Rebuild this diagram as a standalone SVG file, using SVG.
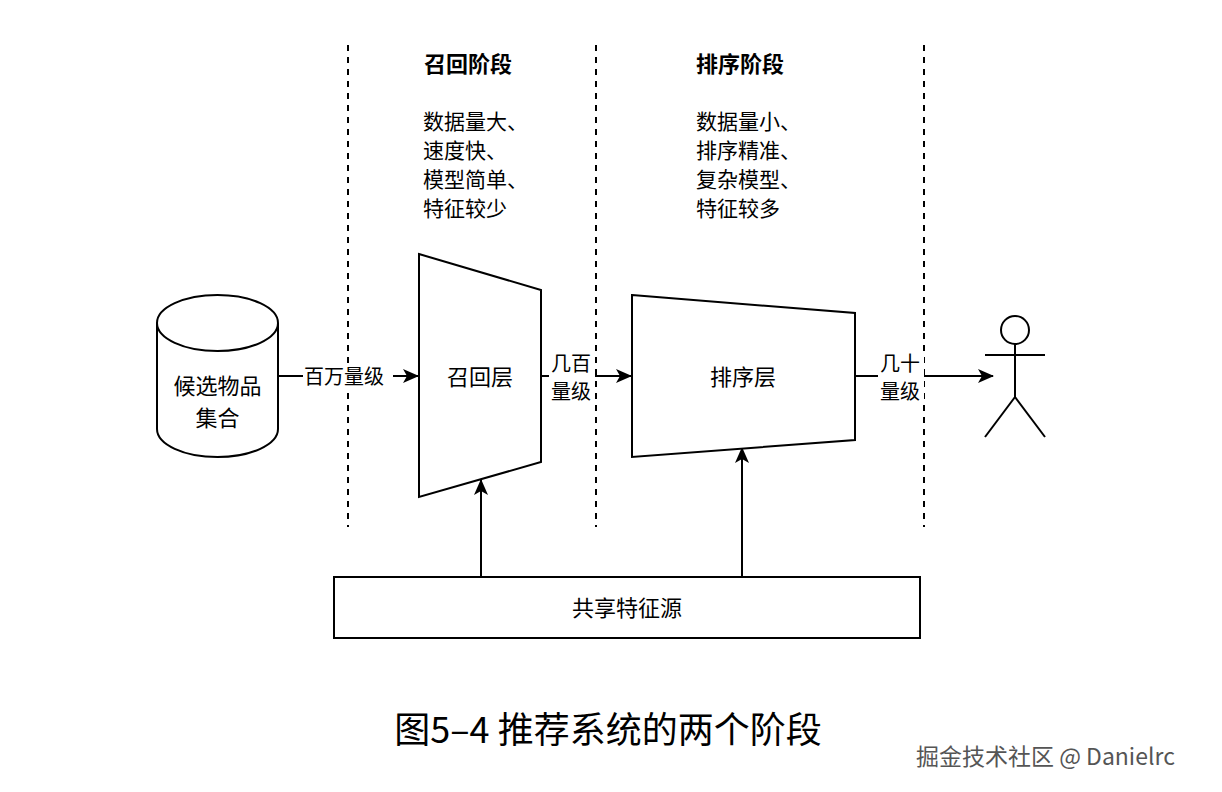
<svg xmlns="http://www.w3.org/2000/svg" width="1222" height="792" viewBox="0 0 1222 792">
<style>
.s{fill:#fff;stroke:#000;stroke-width:2}
.d{stroke:#000;stroke-width:2;stroke-dasharray:6 6;fill:none}
.c{stroke:#000;stroke-width:2;fill:none}
text{font-family:"Noto Sans CJK SC","Liberation Sans",sans-serif;font-size:22px;fill:#000}
.b{font-weight:bold}
.m{text-anchor:middle}
.l{font-size:20px}
.t{font-size:21px}
</style>
<defs>
<marker id="ab" markerWidth="16" markerHeight="16" refX="15" refY="8" orient="auto" markerUnits="userSpaceOnUse" viewBox="0 0 16 16"><path d="M0,1 L16,8 L0,15 L4,8 Z" fill="#000"/></marker></defs>
<rect width="1222" height="792" fill="#fff"/>
<g id="dividers">
<line class="d" x1="348" y1="45" x2="348" y2="527"/>
<line class="d" x1="596" y1="45" x2="596" y2="527"/>
<line class="d" x1="924" y1="45" x2="924" y2="527"/>
</g>
<g id="stage1"><text class="b" x="424" y="72">召回阶段</text>
<text class="t" x="423" y="129">数据量大、</text><text class="t" x="423" y="158">速度快、</text><text class="t" x="423" y="187">模型简单、</text><text class="t" x="423" y="216">特征较少</text></g>
<g id="stage2"><text class="b" x="696" y="72">排序阶段</text>
<text class="t" x="696" y="129">数据量小、</text><text class="t" x="696" y="158">排序精准、</text><text class="t" x="696" y="187">复杂模型、</text><text class="t" x="696" y="216">特征较多</text></g>
<g id="connectors">
<line class="c" x1="278" y1="376" x2="418" y2="376" marker-end="url(#ab)"/>
<line class="c" x1="541" y1="376" x2="631" y2="376" marker-end="url(#ab)"/>
<line class="c" x1="855" y1="376" x2="993" y2="376" marker-end="url(#ab)"/>
<line class="c" x1="481" y1="577" x2="481" y2="480" marker-end="url(#ab)"/>
<line class="c" x1="742" y1="577" x2="742" y2="448" marker-end="url(#ab)"/>
<rect x="303" y="364" width="90" height="24" fill="#fff"/>
<text class="l" x="304" y="384">百万量级</text>
<rect x="549" y="352" width="46" height="50" fill="#fff"/>
<text class="l" x="551" y="371">几百</text><text class="l" x="551" y="399">量级</text>
<rect x="878" y="352" width="46" height="50" fill="#fff"/>
<text class="l" x="880" y="371">几十</text><text class="l" x="880" y="399">量级</text>
</g>
<g id="pool">
<path class="s" d="M157,323 L157,429 A60.5,28 0 0 0 278,429 L278,323"/>
<ellipse class="s" cx="217.5" cy="323" rx="60.5" ry="28"/>
<text class="m" x="217.5" y="394">候选物品</text><text class="m" x="217.5" y="426">集合</text>
</g>
<g id="recall"><polygon class="s" points="419,254 541,290 541,462 419,497"/><text class="m" x="480" y="385">召回层</text></g>
<g id="rank"><polygon class="s" points="632,295 855,313 855,440 632,457"/><text class="m" x="743" y="385">排序层</text></g>
<g id="user" class="c"><circle cx="1015" cy="330" r="14"/><line x1="1015" y1="344" x2="1015" y2="397"/><line x1="985" y1="355" x2="1045" y2="355"/><line x1="1015" y1="397" x2="985" y2="437"/><line x1="1015" y1="397" x2="1045" y2="437"/></g>
<g id="features"><rect class="s" x="334" y="577" width="586" height="61"/><text class="m" x="627" y="616">共享特征源</text></g>
<text class="m" x="608" y="743" style="font-size:36px">图5–4 推荐系统的两个阶段</text>
<text x="916" y="765" style="font-size:23px;fill:#555">掘金技术社区 @ Danielrc</text>
</svg>
